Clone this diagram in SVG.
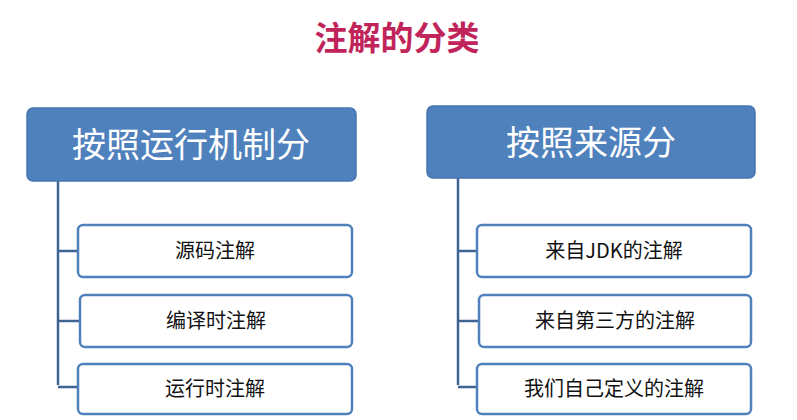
<svg xmlns="http://www.w3.org/2000/svg" width="797" height="420" viewBox="0 0 797 420">
<style>
.main rect{fill:#4F81BD;stroke:#4675B0;stroke-width:1.5}
.main text{fill:#fff;font-size:34px;font-family:"Noto Sans CJK SC",sans-serif;text-anchor:middle}
.child rect{fill:#fff;stroke:#4F81BD;stroke-width:2.5}
.child text{fill:#111;font-size:20px;font-family:"Noto Sans CJK SC",sans-serif;text-anchor:middle}
.conn path{fill:none;stroke:#3F6393;stroke-width:2.5}
</style>
<rect width="797" height="420" fill="#fff"/>
<text x="397" y="50" font-size="33" font-weight="bold" fill="#C0245A" text-anchor="middle" font-family="Noto Sans CJK SC,sans-serif">注解的分类</text>
<g class="conn">
<path d="M58 181V385M58 251H78M58 321H80M58 387H78"/>
<path d="M458 178V385M458 251H477M458 321H479M458 387H477"/>
</g>
<g id="left" class="main"><rect x="27" y="108" width="329" height="73" rx="6"/><text x="191" y="157">按照运行机制分</text></g>
<g id="right" class="main"><rect x="427" y="106" width="328" height="72" rx="6"/><text x="591" y="155">按照来源分</text></g>
<g id="l1" class="child"><rect x="78" y="225" width="274" height="52" rx="5"/><text x="215" y="258">源码注解</text></g>
<g id="l2" class="child"><rect x="80" y="295" width="272" height="52" rx="5"/><text x="216" y="328">编译时注解</text></g>
<g id="l3" class="child"><rect x="78" y="364" width="274" height="50" rx="5"/><text x="215" y="396">运行时注解</text></g>
<g id="r1" class="child"><rect x="477" y="225" width="274" height="52" rx="5"/><text x="614" y="258">来自JDK的注解</text></g>
<g id="r2" class="child"><rect x="479" y="295" width="272" height="52" rx="5"/><text x="615" y="328">来自第三方的注解</text></g>
<g id="r3" class="child"><rect x="477" y="364" width="274" height="50" rx="5"/><text x="614" y="396">我们自己定义的注解</text></g>
</svg>
